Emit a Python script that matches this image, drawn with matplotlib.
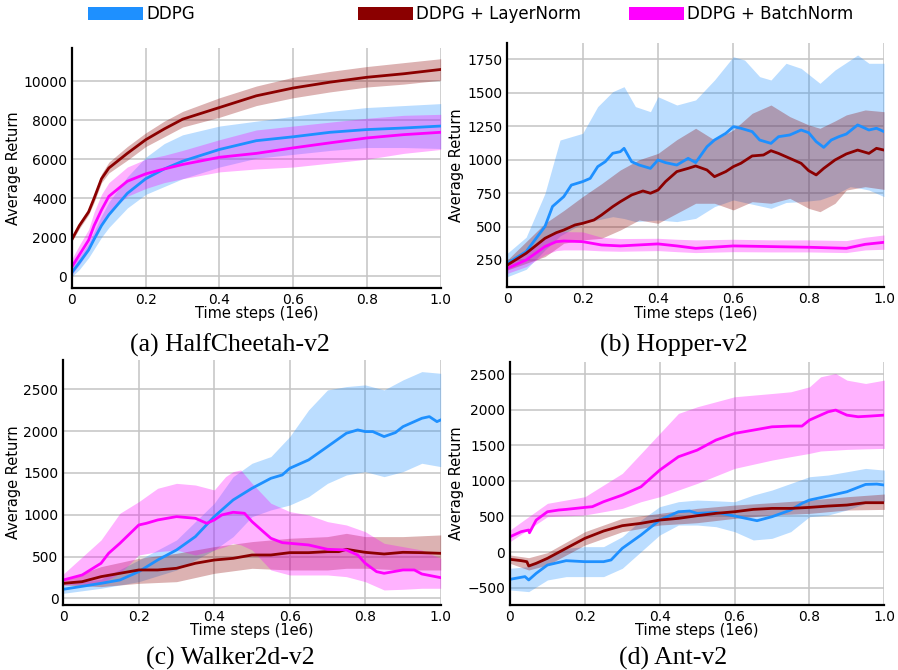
import numpy as np
import matplotlib
matplotlib.use("Agg")
from matplotlib import pyplot as plt
from matplotlib.patches import Patch

# colours of the three methods
c_ddpg = '#1E90FF'
c_ln = '#8B0000'
c_bn = '#FF00FF'

#%% HalfCheetah-v2
hc_x = [0, 0.02, 0.045, 0.06, 0.08, 0.1, 0.15, 0.2, 0.25, 0.3, 0.4, 0.5, 0.6, 0.7, 0.8, 0.9, 1.0]
hc_ddpg = [200, 700, 1350, 1900, 2600, 3150, 4250, 5000, 5500, 5900, 6500, 6950, 7150, 7380, 7520, 7600, 7700]
hc_ddpg_hi = [500, 1000, 1700, 2300, 3100, 3800, 5100, 6100, 6800, 7250, 7700, 7950, 8200, 8450, 8650, 8750, 8850]
hc_ddpg_lo = [0, 350, 950, 1400, 2000, 2500, 3500, 4200, 4600, 5000, 5600, 6050, 6250, 6450, 6600, 6600, 6550]
hc_ln = [1900, 2600, 3300, 4000, 5000, 5550, 6300, 7000, 7550, 8050, 8650, 9250, 9650, 9950, 10200, 10380, 10600]
hc_ln_hi = [2000, 2750, 3450, 4200, 5250, 5850, 6650, 7350, 7950, 8450, 9150, 9750, 10200, 10500, 10750, 10950, 11150]
hc_ln_lo = [1800, 2450, 3150, 3800, 4800, 5300, 5950, 6650, 7150, 7650, 8150, 8750, 9150, 9450, 9700, 9850, 10050]
hc_bn = [500, 1100, 1850, 2600, 3400, 4100, 4870, 5250, 5500, 5730, 6100, 6300, 6580, 6840, 7090, 7260, 7380]
hc_bn_hi = [900, 1600, 2400, 3300, 4200, 4800, 5600, 6000, 6200, 6450, 7000, 7500, 7700, 7900, 8100, 8250, 8300]
hc_bn_lo = [100, 600, 1300, 1900, 2600, 3300, 4100, 4500, 4800, 5000, 5350, 5500, 5600, 5800, 6000, 6300, 6500]

#%% Hopper-v2
hop_ddpg_x = [0, 0.05, 0.1, 0.12, 0.15, 0.17, 0.2, 0.22, 0.24, 0.26, 0.28, 0.3, 0.31, 0.33, 0.35, 0.38, 0.4, 0.42,
              0.45, 0.48, 0.5, 0.53, 0.55, 0.58, 0.6, 0.62, 0.65, 0.67, 0.7, 0.72, 0.75, 0.78, 0.8, 0.82, 0.84,
              0.86, 0.88, 0.9, 0.93, 0.96, 0.98, 1.0]
hop_ddpg = [225, 312, 500, 650, 724, 810, 836, 860, 948, 985, 1048, 1060, 1085, 985, 960, 935, 998, 978,
            960, 1010, 978, 1097, 1147, 1197, 1247, 1235, 1210, 1147, 1122, 1172, 1185, 1222, 1202, 1135, 1092,
            1147, 1172, 1192, 1260, 1222, 1235, 1210]
hop_ddpg_bx = [0, 0.05, 0.1, 0.14, 0.2, 0.24, 0.28, 0.31, 0.34, 0.38, 0.4, 0.45, 0.5, 0.55, 0.6, 0.63, 0.67,
               0.7, 0.74, 0.78, 0.83, 0.87, 0.91, 0.93, 0.96, 1.0]
hop_ddpg_hi = [300, 420, 748, 1147, 1197, 1397, 1509, 1546, 1397, 1359, 1471, 1409, 1447, 1596, 1770, 1745, 1621,
               1596, 1721, 1683, 1571, 1671, 1745, 1783, 1721, 1721]
hop_ddpg_lo = [125, 180, 325, 430, 524, 550, 574, 560, 537, 545, 549, 537, 561, 649, 699, 680, 655,
               636, 680, 686, 700, 740, 798, 790, 773, 724]
hop_ln_x = [0, 0.05, 0.1, 0.13, 0.15, 0.18, 0.2, 0.23, 0.25, 0.28, 0.3, 0.33, 0.36, 0.38, 0.4, 0.42, 0.45, 0.48,
            0.5, 0.53, 0.55, 0.58, 0.6, 0.62, 0.65, 0.68, 0.7, 0.72, 0.75, 0.78, 0.8, 0.82, 0.84, 0.87, 0.9,
            0.93, 0.96, 0.98, 1.0]
hop_ln = [212, 300, 412, 454, 474, 512, 524, 549, 586, 649, 686, 736, 766, 749, 773, 836, 911, 935,
          953, 923, 873, 911, 948, 973, 1028, 1035, 1067, 1047, 1010, 973, 918, 886, 935, 998, 1043,
          1072, 1047, 1085, 1072]
hop_ln_bx = [0, 0.1, 0.15, 0.2, 0.25, 0.3, 0.35, 0.4, 0.45, 0.5, 0.55, 0.6, 0.65, 0.7, 0.75, 0.8, 0.83, 0.87,
             0.9, 0.95, 1.0]
hop_ln_hi = [250, 524, 620, 724, 820, 923, 1000, 1047, 1150, 1235, 1147, 1222, 1347, 1409, 1322, 1260, 1235, 1290,
             1335, 1372, 1359]
hop_ln_lo = [175, 275, 375, 400, 412, 474, 549, 524, 599, 674, 674, 624, 686, 674, 711, 636, 611, 674,
             773, 798, 778]
hop_bn_x = [0, 0.05, 0.1, 0.13, 0.15, 0.2, 0.25, 0.3, 0.4, 0.45, 0.5, 0.6, 0.7, 0.8, 0.9, 0.95, 1.0]
hop_bn = [187, 250, 350, 387, 392, 387, 362, 355, 370, 355, 337, 355, 350, 345, 337, 367, 382]
hop_bn_hi = [230, 310, 420, 455, 462, 460, 420, 410, 412, 405, 400, 405, 400, 400, 395, 420, 437]
hop_bn_lo = [150, 200, 290, 320, 325, 325, 318, 315, 320, 312, 305, 312, 310, 310, 305, 325, 330]

#%% Walker2d-v2
wk_ddpg_x = [0, 0.1, 0.15, 0.2, 0.25, 0.3, 0.35, 0.4, 0.45, 0.5, 0.55, 0.58, 0.6, 0.65, 0.7, 0.75, 0.78, 0.8,
             0.82, 0.85, 0.88, 0.9, 0.95, 0.97, 0.99, 1.0]
wk_ddpg = [108, 179, 219, 319, 458, 578, 738, 977, 1176, 1316, 1435, 1475, 1555, 1655, 1814, 1974, 2014, 1994,
           1994, 1934, 1982, 2053, 2153, 2173, 2113, 2133]
wk_ddpg_bx = [0, 0.1, 0.2, 0.3, 0.4, 0.45, 0.5, 0.55, 0.6, 0.65, 0.7, 0.75, 0.8, 0.85, 0.9, 0.95, 1.0]
wk_ddpg_hi = [160, 230, 458, 698, 1137, 1455, 1615, 1695, 1934, 2253, 2492, 2532, 2552, 2492, 2612, 2711, 2691]
wk_ddpg_lo = [60, 120, 199, 339, 578, 738, 977, 1057, 1116, 1216, 1375, 1475, 1515, 1455, 1515, 1615, 1575]
wk_ln_x = [0, 0.05, 0.1, 0.15, 0.2, 0.25, 0.3, 0.35, 0.4, 0.45, 0.5, 0.55, 0.6, 0.65, 0.7, 0.73, 0.75, 0.8,
           0.85, 0.9, 0.95, 1.0]
wk_ln = [179, 199, 259, 299, 339, 339, 359, 419, 458, 478, 518, 518, 546, 546, 558, 558, 586, 550,
         530, 550, 546, 538]
wk_ln_bx = [0, 0.1, 0.2, 0.3, 0.4, 0.5, 0.6, 0.7, 0.75, 0.8, 0.9, 1.0]
wk_ln_hi = [219, 379, 478, 538, 618, 678, 718, 738, 777, 738, 738, 758]
wk_ln_lo = [160, 140, 179, 199, 299, 359, 339, 339, 359, 359, 339, 339]
wk_bn_x = [0, 0.05, 0.1, 0.12, 0.15, 0.2, 0.22, 0.25, 0.3, 0.35, 0.38, 0.4, 0.42, 0.45, 0.48, 0.5, 0.53, 0.55,
           0.58, 0.6, 0.65, 0.7, 0.75, 0.78, 0.8, 0.83, 0.85, 0.9, 0.93, 0.95, 1.0]
wk_bn = [219, 279, 419, 538, 658, 877, 897, 937, 977, 957, 897, 937, 997, 1029, 1017, 917, 797, 718,
         666, 658, 638, 586, 578, 518, 419, 319, 299, 339, 339, 291, 247]
wk_bn_bx = [0, 0.1, 0.15, 0.2, 0.25, 0.3, 0.35, 0.4, 0.43, 0.45, 0.47, 0.5, 0.55, 0.6, 0.65, 0.7, 0.75, 0.8,
            0.85, 0.9, 0.95, 1.0]
wk_bn_hi = [291, 698, 1017, 1156, 1316, 1375, 1355, 1296, 1455, 1515, 1535, 1375, 1137, 1037, 997, 917, 877, 797,
            658, 618, 578, 478]
wk_bn_lo = [160, 179, 299, 518, 558, 578, 518, 578, 620, 658, 640, 578, 339, 279, 279, 279, 259, 199,
            100, 108, 120, 120]

#%% Ant-v2
ant_ddpg_x = [0, 0.04, 0.05, 0.07, 0.1, 0.15, 0.2, 0.25, 0.27, 0.3, 0.35, 0.4, 0.45, 0.48, 0.5, 0.55, 0.6, 0.63,
              0.66, 0.7, 0.75, 0.78, 0.8, 0.85, 0.9, 0.95, 0.98, 1.0]
ant_ddpg = [-384, -346, -393, -300, -183, -122, -136, -136, -112, 52, 239, 449, 566, 576, 543, 557, 506, 473,
            440, 496, 590, 684, 730, 787, 847, 950, 955, 941]
ant_ddpg_bx = [0, 0.05, 0.1, 0.15, 0.2, 0.25, 0.3, 0.35, 0.4, 0.45, 0.5, 0.55, 0.6, 0.65, 0.7, 0.75, 0.8, 0.85,
               0.9, 0.95, 1.0]
ant_ddpg_hi = [-229, -206, -66, 52, 75, 75, 215, 449, 637, 707, 730, 720, 707, 800, 871, 964, 1058, 1082,
               1128, 1175, 1151]
ant_ddpg_lo = [-534, -557, -393, -346, -346, -346, -229, 5, 239, 379, 379, 356, 286, 169, 192, 286, 496, 520,
               590, 684, 707]
ant_ln_x = [0, 0.03, 0.045, 0.05, 0.07, 0.1, 0.15, 0.2, 0.25, 0.3, 0.35, 0.4, 0.45, 0.5, 0.55, 0.6, 0.65, 0.7,
            0.75, 0.8, 0.85, 0.9, 0.95, 1.0]
ant_ln = [-103, -122, -136, -197, -159, -89, 52, 192, 295, 370, 403, 449, 473, 510, 543, 566, 599, 613,
          613, 627, 646, 660, 693, 693]
ant_ln_bx = [0, 0.05, 0.1, 0.2, 0.3, 0.4, 0.5, 0.6, 0.7, 0.8, 0.9, 1.0]
ant_ln_hi = [-42, -80, -9, 286, 473, 543, 613, 660, 693, 730, 777, 815]
ant_ln_lo = [-159, -253, -183, 98, 286, 379, 412, 473, 520, 543, 590, 599]
ant_bn_x = [0, 0.03, 0.05, 0.052, 0.07, 0.1, 0.13, 0.15, 0.2, 0.22, 0.25, 0.3, 0.35, 0.4, 0.45, 0.5, 0.55, 0.6,
            0.65, 0.7, 0.75, 0.78, 0.8, 0.82, 0.85, 0.87, 0.9, 0.93, 0.96, 1.0]
ant_bn = [215, 286, 309, 270, 449, 566, 590, 599, 627, 637, 707, 800, 917, 1151, 1339, 1432, 1573, 1667,
          1713, 1760, 1770, 1770, 1854, 1901, 1971, 1995, 1924, 1901, 1910, 1924]
ant_bn_bx = [0, 0.1, 0.2, 0.3, 0.35, 0.4, 0.45, 0.5, 0.6, 0.7, 0.75, 0.8, 0.83, 0.87, 0.9, 0.95, 1.0]
ant_bn_hi = [309, 684, 777, 1105, 1385, 1667, 1948, 2041, 2182, 2228, 2252, 2322, 2463, 2509, 2416, 2369, 2416]
ant_bn_lo = [145, 496, 520, 613, 707, 777, 871, 964, 1175, 1292, 1340, 1386, 1420, 1432, 1442, 1450, 1456]

x_ticks = [0, 0.2, 0.4, 0.6, 0.8, 1.0]
x_ticklabels = ['0', '0.2', '0.4', '0.6', '0.8', '1.0']
labels = ['DDPG', 'DDPG + LayerNorm', 'DDPG + BatchNorm']


def draw_panel(ax, runs, yticks, ylim, ylab_x, xlab_y):
    # runs: list of (x, mean, band_x, hi, lo, colour)
    for x, m, bx, hi, lo, c in runs:
        ax.fill_between(bx, lo, hi, color=c, alpha=0.3, lw=0)
    for x, m, bx, hi, lo, c in runs:
        ax.plot(x, m, color=c, lw=2.0)
    ax.set_xlim(0, 1.0)
    ax.set_ylim(*ylim)
    ax.set_xticks(x_ticks)
    ax.set_xticklabels(x_ticklabels)
    ax.set_yticks(yticks)
    ax.grid(True, color='#c4c4c4', lw=1.1)
    ax.set_axisbelow(True)
    for s in ['top', 'right']:
        ax.spines[s].set_visible(False)
    for s in ['left', 'bottom']:
        ax.spines[s].set_linewidth(1.6)
        ax.spines[s].set_color('black')
    ax.tick_params(length=0, pad=3.5, labelsize=10)
    ax.set_ylabel('Average Return', fontsize=10.5)
    ax.set_xlabel('Time steps (1e6)', fontsize=10.5)
    ax.yaxis.set_label_coords(ylab_x, 0.5)
    ax.xaxis.set_label_coords(0.5, xlab_y)


fig = plt.figure(figsize=(8.98, 6.70), dpi=100)
W, H = 898.0, 670.0


def px_axes(l, t, r, b):
    return fig.add_axes([l / W, 1 - b / H, (r - l) / W, (b - t) / H])


ax1 = px_axes(72, 48, 440.7, 288)
draw_panel(ax1, [(hc_x, hc_ddpg, hc_x, hc_ddpg_hi, hc_ddpg_lo, c_ddpg),
                 (hc_x, hc_ln, hc_x, hc_ln_hi, hc_ln_lo, c_ln),
                 (hc_x, hc_bn, hc_x, hc_bn_hi, hc_bn_lo, c_bn)],
           np.arange(0, 10001, 2000), (-600, 11700), -0.139, -0.076)

ax2 = px_axes(507.3, 42.7, 884, 286.7)
draw_panel(ax2, [(hop_ddpg_x, hop_ddpg, hop_ddpg_bx, hop_ddpg_hi, hop_ddpg_lo, c_ddpg),
                 (hop_ln_x, hop_ln, hop_ln_bx, hop_ln_hi, hop_ln_lo, c_ln),
                 (hop_bn_x, hop_bn, hop_bn_x, hop_bn_hi, hop_bn_lo, c_bn)],
           np.arange(250, 1751, 250), (50, 1875), -0.115, -0.08)

ax3 = px_axes(63.3, 360, 440.7, 605)
draw_panel(ax3, [(wk_ddpg_x, wk_ddpg, wk_ddpg_bx, wk_ddpg_hi, wk_ddpg_lo, c_ddpg),
                 (wk_ln_x, wk_ln, wk_ln_bx, wk_ln_hi, wk_ln_lo, c_ln),
                 (wk_bn_x, wk_bn, wk_bn_bx, wk_bn_hi, wk_bn_lo, c_bn)],
           np.arange(0, 2501, 500), (-80, 2850), -0.112, -0.075)

ax4 = px_axes(510, 361.7, 884.3, 605)
draw_panel(ax4, [(ant_ddpg_x, ant_ddpg, ant_ddpg_bx, ant_ddpg_hi, ant_ddpg_lo, c_ddpg),
                 (ant_ln_x, ant_ln, ant_ln_bx, ant_ln_hi, ant_ln_lo, c_ln),
                 (ant_bn_x, ant_bn, ant_bn_bx, ant_bn_hi, ant_bn_lo, c_bn)],
           np.arange(-500, 2501, 500), (-745, 2675), -0.123, -0.075)

# captions under each panel
cap_font = dict(family=['Liberation Serif', 'DejaVu Serif'], fontsize=18.5, ha='center', va='baseline')
fig.text(230 / W, 1 - 351.7 / H, '(a) HalfCheetah-v2', **cap_font)
fig.text(674 / W, 1 - 351.7 / H, '(b) Hopper-v2', **cap_font)
fig.text(230 / W, 1 - 665 / H, '(c) Walker2d-v2', **cap_font)
fig.text(673 / W, 1 - 665 / H, '(d) Ant-v2', **cap_font)

# legend along the top, one entry per column
for lab, c, xpos in zip(labels, [c_ddpg, c_ln, c_bn], [88, 358, 629]):
    fig.legend(handles=[Patch(facecolor=c, edgecolor='none')], labels=[lab],
               loc='center left', bbox_to_anchor=(xpos / W, 1 - 14 / H),
               frameon=False, fontsize=12, borderpad=0, borderaxespad=0,
               handlelength=3.3, handleheight=0.85, handletextpad=0.2)

fig.savefig('out.png', dpi=100)
